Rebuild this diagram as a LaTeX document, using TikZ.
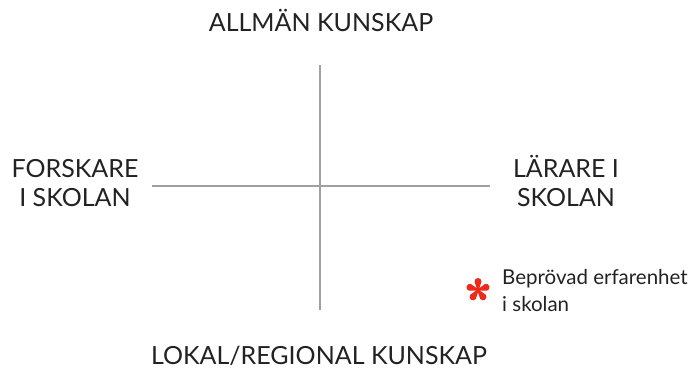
\documentclass[tikz,border=0pt]{standalone}
\usepackage{fontspec}
\setmainfont{Lato}
\usepackage{tikz}
\usepackage{xcolor}
\usetikzlibrary{calc}
\definecolor{axisgray}{HTML}{A0A0A0}
\definecolor{textgray}{HTML}{222222}
\definecolor{starred}{HTML}{EE2A1B}

\begin{document}
\begin{tikzpicture}[x=1pt, y=1pt,
	axis/.style={axisgray, line width=1.5pt},
	heading/.style={textgray, inner sep=0pt, font=\fontsize{25}{29}\selectfont, align=center},
	note/.style={textgray, inner sep=0pt, font=\fontsize{20.5}{27}\selectfont, align=left}]
	% Fix the page size
	\useasboundingbox (0, 0) rectangle (698, 369);
	% Draw axes
	\coordinate (top) at (320, 304);
	\coordinate (bottom) at (320, 59);
	\coordinate (left) at (152, 183);
	\coordinate (right) at (490, 183);
	\draw[axis] (top) -- (bottom);
	\draw[axis] (left) -- (right);
	% Draw labels
	\node[heading, anchor=base] (allman) at (321, 337) {ALLMÄN KUNSKAP};
	\node[heading, anchor=base] (lokal) at (319, 4) {LOKAL/REGIONAL KUNSKAP};
	\node[heading] (forskare) at (75, 186) {FORSKARE\\I SKOLAN};
	\node[heading] (larare) at (566, 188) {LÄRARE I\\SKOLAN};
	% Draw note with star
	\node[note, anchor=base west] (beprovad) at (502, 57) {Beprövad erfarenhet\\i skolan};
	\coordinate (star) at (478, 79);
	\foreach \a in {90, 18, 162, -54, -126}
		\fill[starred] ($(star)+(\a-90:0.8)$) -- ($(star)+(\a:8.5)+(\a-90:3.5)$)
			arc[start angle=\a-90, end angle=\a+90, radius=3.5]
			-- ($(star)+(\a+90:0.8)$) -- cycle;
\end{tikzpicture}
\end{document}
